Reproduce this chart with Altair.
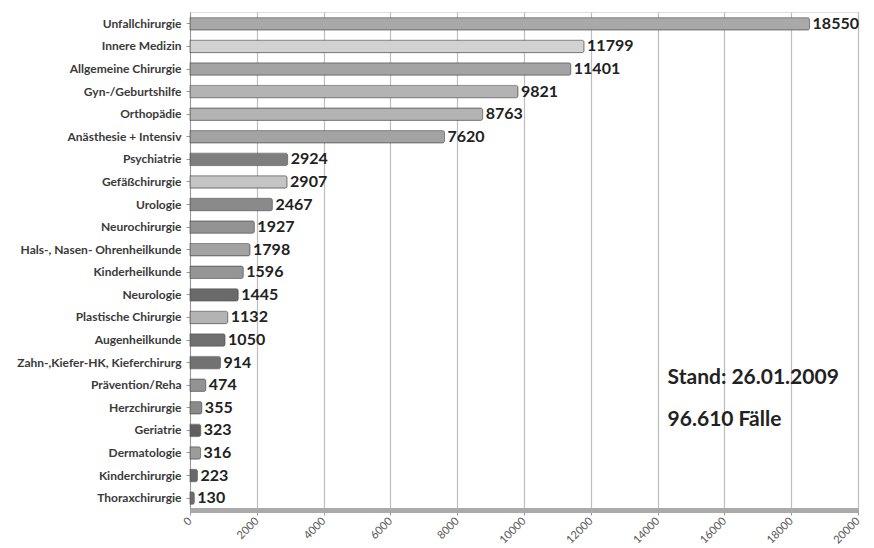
import altair as alt
import pandas as pd

categories = ["Unfallchirurgie", "Innere Medizin", "Allgemeine Chirurgie", "Gyn-/Geburtshilfe",
              "Orthopädie", "Anästhesie + Intensiv", "Psychiatrie", "Gefäßchirurgie", "Urologie",
              "Neurochirurgie", "Hals-, Nasen- Ohrenheilkunde", "Kinderheilkunde", "Neurologie",
              "Plastische Chirurgie", "Augenheilkunde", "Zahn-,Kiefer-HK, Kieferchirurg",
              "Prävention/Reha", "Herzchirurgie", "Geriatrie", "Dermatologie", "Kinderchirurgie",
              "Thoraxchirurgie"]
values = [18550, 11799, 11401, 9821, 8763, 7620, 2924, 2907, 2467, 1927, 1798, 1596, 1445,
          1132, 1050, 914, 474, 355, 323, 316, 223, 130]
shades = ["#a9a9a9", "#d2d2d2", "#a3a3a3", "#b3b3b3", "#b3b3b3", "#a3a3a3", "#7e7e7e", "#c4c4c4",
          "#8a8a8a", "#939393", "#a3a3a3", "#959595", "#6a6a6a", "#b3b3b3", "#707070", "#727272",
          "#939393", "#8a8a8a", "#5f5f5f", "#9c9c9c", "#6a6a6a", "#6e6e6e"]
tick_values = list(range(0, 20001, 2000))
notes = ["Stand: 26.01.2009", "96.610 Fälle"]

df = pd.DataFrame({"cat": categories, "val": values, "col": shades})
FONT = "Lato"

y_enc = alt.Y("cat:N", sort=categories, title=None,
              scale=alt.Scale(paddingInner=0.45, paddingOuter=0.25),
              axis=alt.Axis(labelFont=FONT, labelFontSize=12, labelFontWeight="bold",
                            labelColor="#3a3a3a", labelPadding=5, tickSize=4,
                            tickColor="#999999", domainColor="#999999", labelLimit=200))
x_enc = alt.X("val:Q", title=None,
              scale=alt.Scale(domain=[0, 20000], nice=False),
              axis=alt.Axis(values=tick_values, format="d", labelAngle=-45, labelFont=FONT,
                            labelFontSize=11, labelColor="#555555", grid=True,
                            gridColor="#bdbdbd", gridWidth=1.2, domainColor="#aaaaaa",
                            domainWidth=5, tickColor="#999999", tickSize=5,
                            labelPadding=4, labelAlign="right", labelBaseline="middle"))

bars = alt.Chart(df).mark_bar(stroke="#555555", strokeWidth=0.6, cornerRadiusEnd=2).encode(
    x=x_enc, y=y_enc, color=alt.Color("col:N", scale=None))

labels = alt.Chart(df).mark_text(align="left", baseline="middle", dx=3, font=FONT,
                                 fontSize=16, fontWeight="bold", color="#222222").encode(
    x="val:Q", y=alt.Y("cat:N", sort=categories), text="val:Q")

note1 = alt.Chart(pd.DataFrame({"t": [notes[0]], "x": [14300]})).mark_text(
    align="left", baseline="middle", font=FONT, fontSize=21, fontWeight="bold",
    color="#222222").encode(x="x:Q", y=alt.value(366), text="t:N")
note2 = alt.Chart(pd.DataFrame({"t": [notes[1]], "x": [14300]})).mark_text(
    align="left", baseline="middle", font=FONT, fontSize=21, fontWeight="bold",
    color="#222222").encode(x="x:Q", y=alt.value(408), text="t:N")

chart = alt.layer(bars, labels, note1, note2).properties(
    width=668, height=498,
    padding={"left": 190, "top": 12, "right": 16, "bottom": 38},
    autosize=alt.AutoSizeParams(type="none"),
).configure_view(stroke=None).configure(background="white")

chart.save("out.html", embed_options={"renderer": "svg", "actions": False})
